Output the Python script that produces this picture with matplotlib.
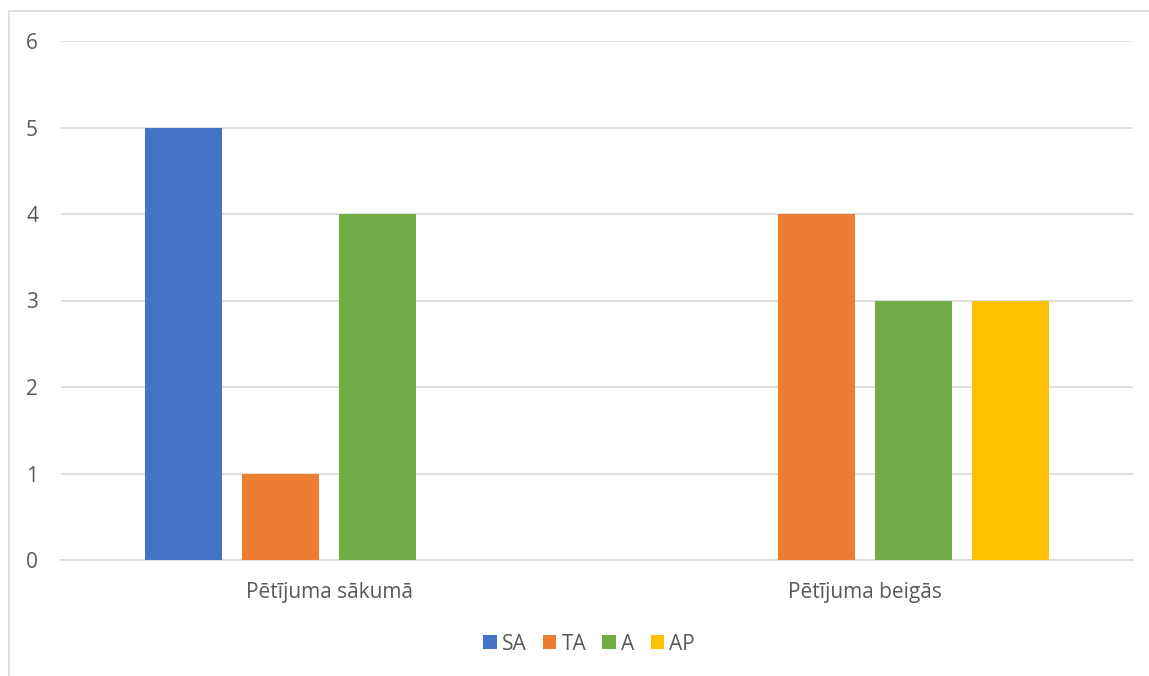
import matplotlib
matplotlib.use("Agg")
import matplotlib.pyplot as plt
import numpy as np
from matplotlib.patches import Rectangle

categories = ["Pētījuma sākumā", "Pētījuma beigās"]
series = ["SA", "TA", "A", "AP"]
SA = [5, 0]
TA = [1, 4]
A = [4, 3]
AP = [0, 3]
values = [SA, TA, A, AP]
colors = ["#4472C4", "#ED7D31", "#70AD47", "#FFC000"]
yticks = [0, 1, 2, 3, 4, 5, 6]

plt.rcParams['font.family'] = ['Open Sans', 'DejaVu Sans']

W, H = 1149, 676
fig = plt.figure(figsize=(W / 100, H / 100), dpi=100)
fig.patches.append(Rectangle((9 / W, -0.1), 1.2, (H - 11) / H + 0.1, transform=fig.transFigure,
                             fill=False, edgecolor="#D9D9D9", linewidth=1.2))
ax = fig.add_axes([61 / W, 116 / H, (1133 - 61) / W, (560 - 41) / H])

x = np.arange(len(categories))
step = 0.181
width = 0.1435
for i, (name, vals, c) in enumerate(zip(series, values, colors)):
    ax.bar(x + (i - 1.5) * step, vals, width=width, color=c, label=name, zorder=3)

ax.set_xlim(-0.5, 1.5)
ax.set_ylim(0, 6)
ax.set_yticks(yticks)
ax.set_xticks(x)
ax.set_xticklabels(categories)
ax.yaxis.grid(True, color="#D9D9D9", linewidth=1.2, zorder=0)
for s in ["top", "right", "left"]:
    ax.spines[s].set_visible(False)
ax.spines["bottom"].set_color("#D9D9D9")
ax.spines["bottom"].set_linewidth(1.2)
ax.tick_params(axis="both", length=0, colors="#595959", labelsize=15)
ax.tick_params(axis="y", pad=16.5)
ax.tick_params(axis="x", pad=16)

leg = fig.legend(loc="center", bbox_to_anchor=(589 / W, 1 - 644 / H), ncol=4, frameon=False,
                 fontsize=15, handlelength=0.67, handleheight=0.67, handletextpad=0.24,
                 columnspacing=0.77, labelcolor="#595959")

fig.savefig("out.png", dpi=100)
